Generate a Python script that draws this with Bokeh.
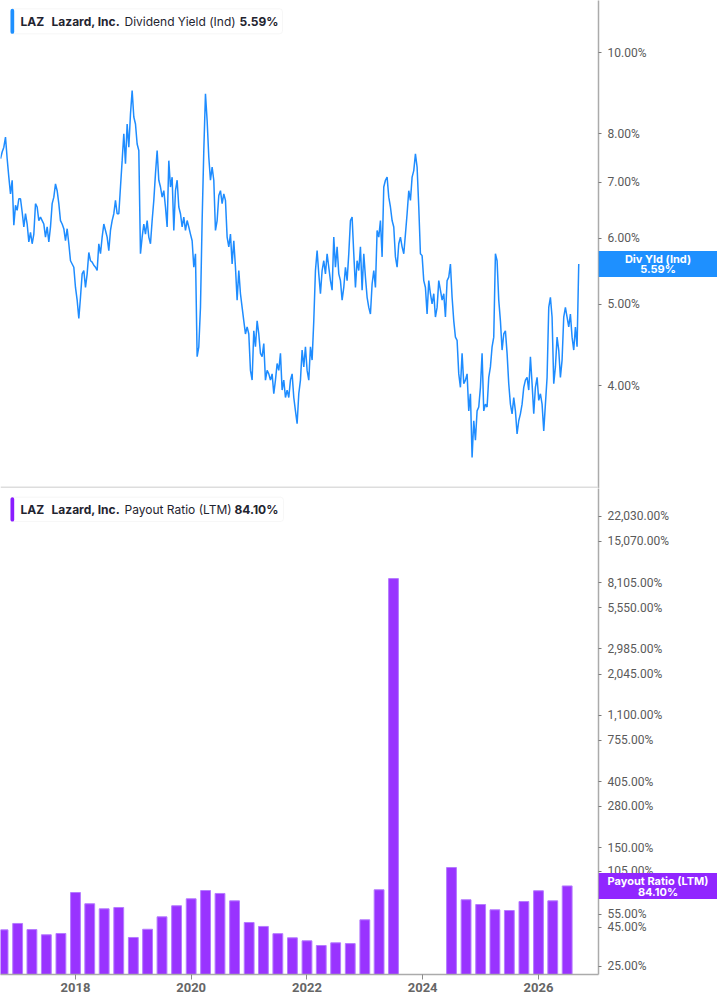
import pandas as pd
from bokeh.plotting import figure
from bokeh.layouts import column, row
from bokeh.models import (Range1d, FixedTicker, BoxAnnotation, Label,
                          DatetimeTickFormatter)
from bokeh.core.properties import value
from bokeh.embed import file_html
from bokeh.resources import INLINE

# ---------------- data ----------------
yield_start = "2016-09-14 17:00"
yield_end = "2026-09-12"
div_yield = [
    7.47, 7.61, 7.71, 7.93, 7.47, 7.10, 6.78, 7.04, 6.22, 6.57,
    6.48, 6.69, 6.69, 6.45, 6.19, 6.42, 6.24, 5.94, 6.10, 5.91,
    6.07, 6.60, 6.54, 6.30, 6.36, 6.30, 6.24, 6.02, 6.19, 5.94,
    6.19, 6.60, 6.72, 6.97, 6.84, 6.60, 6.30, 6.24, 6.16, 5.96,
    6.16, 5.91, 5.64, 5.59, 5.54, 5.24, 5.06, 4.81, 5.10, 5.44,
    5.49, 5.24, 5.44, 5.77, 5.64, 5.62, 5.57, 5.54, 5.49, 5.91,
    5.75, 6.02, 6.24, 6.13, 6.02, 5.80, 6.13, 6.30, 6.42, 6.66,
    6.42, 6.42, 6.91, 7.43, 8.00, 7.37, 8.22, 7.71, 8.45, 9.01,
    8.38, 8.22, 7.78, 7.64, 5.75, 6.02, 6.24, 6.07, 6.30, 6.02,
    5.91, 6.30, 6.66, 7.17, 7.64, 7.04, 6.91, 6.72, 6.84, 6.54,
    6.19, 7.43, 6.91, 7.10, 6.13, 6.84, 7.04, 6.54, 6.42, 6.19,
    6.36, 6.13, 6.30, 6.19, 6.07, 5.96, 5.54, 5.75, 4.33, 4.45,
    4.96, 6.30, 7.64, 8.93, 8.30, 7.50, 7.04, 7.30, 7.04, 6.13,
    6.30, 6.75, 6.84, 6.60, 6.78, 6.66, 6.02, 5.86, 6.07, 5.59,
    5.96, 5.54, 5.06, 5.49, 5.15, 4.96, 4.78, 4.61, 4.70, 4.61,
    4.17, 4.06, 4.65, 4.45, 4.78, 4.61, 4.37, 4.33, 4.49, 4.06,
    4.17, 4.13, 4.06, 4.13, 3.91, 4.06, 4.25, 4.17, 4.37, 3.95,
    4.06, 3.87, 3.95, 3.87, 4.06, 4.13, 3.87, 3.73, 3.60, 3.91,
    4.06,
    4.41, 4.21, 4.45, 4.17, 4.06, 4.45, 4.29, 4.78, 5.49, 5.80,
    5.44, 5.15, 5.49, 5.64, 5.44, 5.75, 5.54, 5.34, 5.20, 6.02,
    5.54, 5.86, 5.44, 5.34, 5.06, 5.24, 5.54, 5.34, 5.75, 6.30,
    6.36, 5.75, 5.24, 5.64, 5.49, 5.86, 5.20, 5.75, 5.39, 5.10,
    4.96, 4.87, 5.29, 5.49, 5.24, 6.13, 6.02, 6.30, 5.70, 6.91,
    7.04, 7.10, 6.72, 6.54, 6.30, 6.19, 5.70, 5.54, 5.91, 6.02,
    5.86, 5.75, 6.07, 6.42, 6.84, 6.66, 7.10, 7.23, 7.57, 7.30,
    6.54, 5.75, 5.72, 5.34, 5.24, 4.87, 5.34, 5.15, 5.01, 5.15,
    4.83, 4.96, 5.34, 5.20, 5.06, 5.15, 4.83, 5.34, 5.39, 5.59,
    5.10, 4.78, 4.57, 4.53, 4.13, 3.98, 4.37, 4.02, 4.06, 4.13,
    3.73, 3.91, 3.28, 3.63, 3.44, 3.73, 3.77, 3.98, 4.37, 3.73,
    3.80, 3.77, 4.09, 4.21, 4.45, 4.57, 5.75, 5.64, 5.06, 4.78,
    4.41, 4.61, 4.65, 4.37, 4.02, 3.80, 3.70, 3.87, 3.73, 3.50,
    3.63, 3.70, 3.80, 3.98, 4.06, 4.09, 3.95, 4.33, 4.02, 3.70,
    3.98, 4.09, 3.84, 3.91, 3.80, 3.53, 3.80, 4.09, 4.96, 5.10,
    4.83, 4.02, 4.21, 4.57, 4.41, 4.09, 4.29, 4.83, 4.96, 4.83,
    4.70, 4.87, 4.57, 4.41, 4.70, 4.45, 5.59,
]

quarters = [
    "2016-10-01", "2017-01-01", "2017-04-01", "2017-07-01", "2017-10-01",
    "2018-01-01", "2018-04-01", "2018-07-01", "2018-10-01",
    "2019-01-01", "2019-04-01", "2019-07-01", "2019-10-01",
    "2020-01-01", "2020-04-01", "2020-07-01", "2020-10-01",
    "2021-01-01", "2021-04-01", "2021-07-01", "2021-10-01",
    "2022-01-01", "2022-04-01", "2022-07-01", "2022-10-01",
    "2023-01-01", "2023-04-01", "2023-07-01",
    "2024-07-01", "2024-10-01",
    "2025-01-01", "2025-04-01", "2025-07-01", "2025-10-01",
    "2026-01-01", "2026-04-01", "2026-07-01",
]
payout = [
    43.4, 47.8, 43.6, 40.3, 41.1,
    76.2, 64.3, 59.6, 60.8,
    38.7, 43.8, 52.8, 62.4,
    69.3, 78.5, 75.1, 67.2,
    48.5, 45.7, 41.0, 38.5,
    36.8, 34.3, 35.7, 35.3,
    50.5, 79.4, 8616.0,
    111.0, 68.3,
    63.6, 58.7, 58.1, 66.5,
    78.2, 67.2, 84.1,
]

tick_years = [2018, 2020, 2022, 2024, 2026]
yield_ticks = [4, 5, 6, 7, 8, 10]
payout_ticks = [25, 45, 55, 105, 150, 280, 405, 755, 1100, 2045, 2985,
                5550, 8105, 15070, 22030]

ticker_name = "LAZ"
company = "Lazard, Inc."
top_metric = "Dividend Yield (Ind)"
top_tag = "Div Yld (Ind)"
bot_metric = "Payout Ratio (LTM)"

# ---------------- styles ----------------
BLUE = "#1e8cff"
BLUE_TAG = "#1e90ff"
PURPLE = "#9933ff"
PURPLE_TAG = "#9126ff"
AXIS_GREY = "#ababab"
LABEL_GREY = "#5a5a5a"
TEXT_DARK = "#1f2430"

x_range = Range1d(start=pd.Timestamp("2016-09-14 17:00"),
                  end=pd.Timestamp("2027-01-14 17:00"))

FRAME_W = 598
RIGHT_W = 119
TOP_H = 488
BOT_H = 486
XAXIS_H = 31


def style_right_axis(ax, ticks):
    ax.ticker = FixedTicker(ticks=ticks)
    ax.major_label_overrides = {t: f"{t:,.2f}%" for t in ticks}
    ax.axis_line_color = AXIS_GREY
    ax.axis_line_width = 1.5
    ax.major_tick_line_color = "#7a7a7a"
    ax.major_tick_out = 3
    ax.major_tick_in = 0
    ax.minor_tick_line_color = None
    ax.major_label_standoff = 6
    ax.major_label_text_font = "Roboto"
    ax.major_label_text_font_size = "12px"
    ax.major_label_text_color = LABEL_GREY


def screen_box(p, l, r, b, t, fill, line=None, radius=0):
    p.add_layout(BoxAnnotation(left=l, right=r, bottom=b, top=t,
                               left_units="screen", right_units="screen",
                               bottom_units="screen", top_units="screen",
                               fill_color=fill, fill_alpha=1.0,
                               line_color=line, line_width=1,
                               border_radius=radius))


def screen_text(p, x, y, text, size, bold, color):
    p.add_layout(Label(x=x, y=y, x_units="screen", y_units="screen", text=text,
                       text_font="Inter", text_font_size=f"{size}px",
                       text_font_style="bold" if bold else "normal",
                       text_color=color, text_align="left",
                       text_baseline="middle"))


def tag_figure(y_range, frame_h, bottom_border, val, line1, line2, color,
               offs):
    t = figure(frame_width=RIGHT_W, frame_height=frame_h,
               x_range=Range1d(0, 1), y_range=y_range, y_axis_type="log",
               x_axis_location=None, y_axis_location=None,
               output_backend="svg", toolbar_location=None,
               min_border_left=0, min_border_right=0, min_border_top=0,
               min_border_bottom=bottom_border)
    t.outline_line_color = None
    t.grid.visible = False
    t.background_fill_alpha = 0
    t.border_fill_alpha = 0
    t.margin = (0, 0, 0, -RIGHT_W)
    t.rect(x=[0.5], y=[val], width=RIGHT_W, height=26, width_units="screen",
           height_units="screen", fill_color=color, line_color=None)
    for txt, off in ((line1, offs[0]), (line2, offs[1])):
        t.text(x=[0.5], y=[val], text=[txt], y_offset=off,
               text_align="center", text_baseline="middle",
               text_font=value("Inter"), text_font_size="11px",
               text_font_style="bold", text_color="white")
    return t


# ---------------- top panel ----------------
y1 = Range1d(3.0121, 11.549)
p1 = figure(frame_width=FRAME_W, frame_height=TOP_H, x_range=x_range,
            y_range=y1, y_axis_type="log",
            x_axis_type="datetime", x_axis_location=None,
            y_axis_location="right", output_backend="svg",
            toolbar_location=None, min_border_left=0, min_border_top=0,
            min_border_bottom=0, min_border_right=RIGHT_W)
p1.outline_line_color = None
p1.grid.visible = False
style_right_axis(p1.yaxis[0], yield_ticks)

p1.line(x=pd.date_range(yield_start, yield_end, periods=len(div_yield)),
        y=div_yield, line_color=BLUE, line_width=1.5)

# separator at bottom of top panel
screen_box(p1, 0, FRAME_W, 0, 2, "#dddddd")

# legend
last_yield = div_yield[-1]
screen_box(p1, 10, 282, 454.7, 479.7, "white", "#e4e4e4", 3)
screen_box(p1, 10, 13.7, 454.7, 479.7, BLUE_TAG, None, 2)
screen_text(p1, 20, 467.2, ticker_name, 12, True, TEXT_DARK)
screen_text(p1, 51, 467.2, company, 12, True, TEXT_DARK)
screen_text(p1, 124, 467.2, top_metric, 12, False, TEXT_DARK)
screen_text(p1, 239, 467.2, f"{last_yield:.2f}%", 12, True, TEXT_DARK)

t1 = tag_figure(y1, TOP_H, 0, last_yield, top_tag, f"{last_yield:.2f}%",
                BLUE_TAG, (-5, 5))

# ---------------- bottom panel ----------------
y2 = Range1d(22.16, 33472)
p2 = figure(frame_width=FRAME_W, frame_height=BOT_H, x_range=x_range,
            y_range=y2, y_axis_type="log",
            x_axis_type="datetime", y_axis_location="right",
            output_backend="svg", toolbar_location=None,
            min_border_left=0, min_border_top=0, min_border_bottom=XAXIS_H,
            min_border_right=RIGHT_W)
p2.outline_line_color = None
p2.grid.visible = False
style_right_axis(p2.yaxis[0], payout_ticks)

xa = p2.xaxis[0]
xa.ticker = FixedTicker(ticks=[pd.Timestamp(f"{y}-01-01").value // 10**6
                               for y in tick_years])
xa.formatter = DatetimeTickFormatter(years="%Y", months="%Y", days="%Y",
                                     hours="%Y")
xa.axis_line_color = AXIS_GREY
xa.axis_line_width = 1.5
xa.major_tick_line_color = "#8a8a8a"
xa.major_tick_out = 5
xa.major_tick_in = 0
xa.minor_tick_line_color = None
xa.major_label_standoff = 3
xa.major_label_text_font = "Roboto"
xa.major_label_text_font_size = "13px"
xa.major_label_text_font_style = "bold"
xa.major_label_text_color = "#666666"

q_dates = pd.to_datetime(quarters)
p2.vbar(x=q_dates, top=payout, bottom=1, width=pd.Timedelta(days=62),
        fill_color=PURPLE, line_color="#b57bff", line_width=1)

# legend
last_payout = payout[-1]
screen_box(p2, 10, 283, 453, 477.3, "white", "#e4e4e4", 3)
screen_box(p2, 10, 13.7, 453, 477.3, "#8a1cff", None, 2)
screen_text(p2, 20, 465.0, ticker_name, 12, True, TEXT_DARK)
screen_text(p2, 51, 465.0, company, 12, True, TEXT_DARK)
screen_text(p2, 124, 465.0, bot_metric, 12, False, TEXT_DARK)
screen_text(p2, 234, 465.0, f"{last_payout:.2f}%", 12, True, TEXT_DARK)

t2 = tag_figure(y2, BOT_H, XAXIS_H, last_payout, bot_metric,
                f"{last_payout:.2f}%", PURPLE_TAG, (-5, 6))

layout = column(row(p1, t1), row(p2, t2))
open("out.html", "w").write(file_html(layout, INLINE))
